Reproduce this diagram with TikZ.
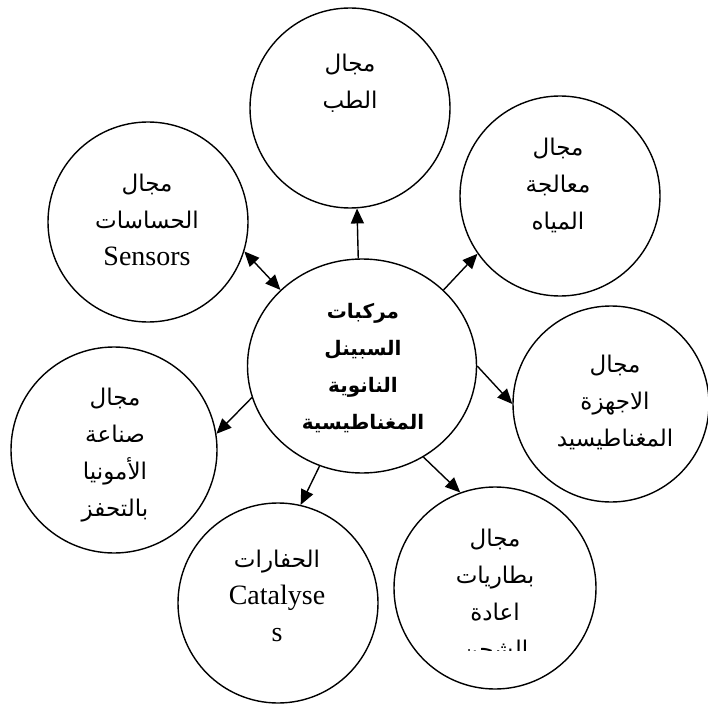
\documentclass[tikz,border=0pt]{standalone}
\usepackage{fontspec}
\setmainfont{Liberation Serif}
\newfontfamily\arabicfont[Script=Arabic]{DejaVu Sans}
\TeXXeTstate=1
\usetikzlibrary{arrows.meta,shapes.geometric}
\newcommand{\ar}[1]{{\arabicfont\fontsize{23}{37}\selectfont\beginR #1\endR}}
\newcommand{\arb}[1]{{\arabicfont\bfseries\fontsize{20}{37}\selectfont\beginR #1\endR}}

\begin{document}
\begin{tikzpicture}[x=1pt,y=-1pt,
	field/.style={draw, line width=1.4pt, circle, minimum size=200pt, inner sep=0pt},
	txt/.style={align=center, font=\fontsize{28}{37}\selectfont},
	arr/.style={-{Triangle[length=15pt,width=13pt]}, line width=1.4pt}]
	\useasboundingbox (0,0) rectangle (707,711);
	% circles
	\node[field, ellipse, minimum width=229pt, minimum height=214pt] (mid) at (362,366) {};
	\node[field] (med) at (350,108) {};
	\node[field] (water) at (560,196) {};
	\node[field] (sens) at (148,222) {};
	\node[field, minimum size=196pt] (mag) at (611,404) {};
	\node[field, minimum size=206pt] (amm) at (114,450) {};
	\node[field] (cat) at (278,603) {};
	\node[field, minimum size=202pt] (bat) at (495,588) {};
	% texts
	\node[txt] (midtxt) at (363,368) {\arb{مركبات}\\\arb{السبينل}\\\arb{النانوية}\\\arb{المغناطيسية}};
	\node[txt] (medtxt) at (350,83) {\ar{مجال}\\\ar{الطب}};
	\node[txt] (watertxt) at (558,185) {\ar{مجال}\\\ar{معالجة}\\\ar{المياه}};
	\node[txt] (senstxt) at (147,220) {\ar{مجال}\\\ar{الحساسات}\\Sensors};
	\node[txt] (magtxt) at (615,402) {\ar{مجال}\\\ar{الاجهزة}\\\ar{المغناطيسيد}};
	\node[txt] (ammtxt) at (115,455) {\ar{مجال}\\\ar{صناعة}\\\ar{الأمونيا}\\\ar{بالتحفز}};
	\node[txt] (cattxt) at (277,596) {\ar{الحفارات}\\Catalyse\\s};
	\begin{scope}
		\clip (390,420) rectangle (600,650);
		\node[txt] (battxt) at (495,596) {\ar{مجال}\\\ar{بطاريات}\\\ar{اعادة}\\\ar{الشحن}};
	\end{scope}
	% arrows
	\draw[arr] (mid.92) -- (med.-86);
	\draw[arr] (mid.43) -- (water.215);
	\draw[arr, {Triangle[length=15pt,width=13pt]}-{Triangle[length=15pt,width=13pt]}] (mid.137) -- (sens.-17);
	\draw[arr] (mid.0) -- (mag.180);
	\draw[arr] (mid.196) -- (amm.9);
	\draw[arr] (mid.247) -- (cat.77);
	\draw[arr] (mid.-56) -- (bat.110);
\end{tikzpicture}
\end{document}
